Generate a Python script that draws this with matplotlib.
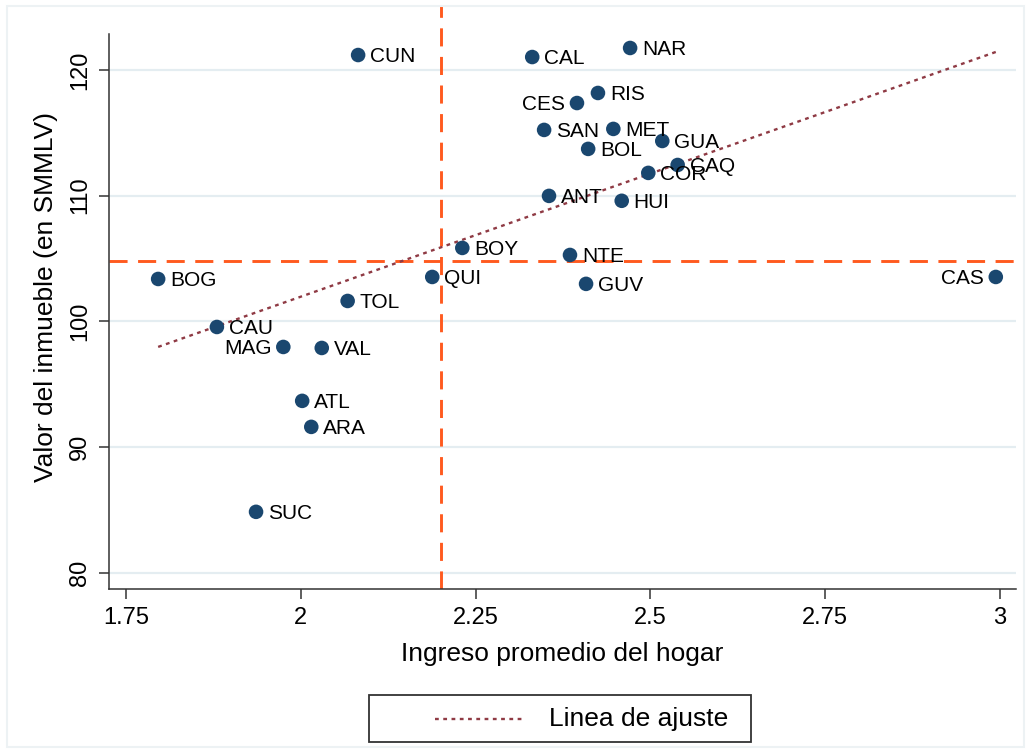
import numpy as np
import matplotlib
matplotlib.use("Agg")
import matplotlib.pyplot as plt
from matplotlib.patches import Rectangle
from matplotlib.lines import Line2D

plt.rcParams['font.family'] = ['Liberation Sans', 'DejaVu Sans']

# Departamentos: ingreso promedio del hogar vs valor del inmueble
deptos = ['BOG', 'TOL', 'CAU', 'MAG', 'VAL', 'ATL', 'ARA', 'SUC', 'CAL', 'NAR',
          'RIS', 'CES', 'SAN', 'MET', 'GUA', 'BOL', 'CAQ', 'COR', 'ANT', 'HUI',
          'CUN', 'BOY', 'QUI', 'NTE', 'GUV', 'CAS']
ingreso = [1.796, 2.067, 1.880, 1.975, 2.030, 2.002, 2.015, 1.936, 2.331, 2.471,
           2.425, 2.395, 2.348, 2.447, 2.517, 2.411, 2.539, 2.497, 2.355, 2.459,
           2.082, 2.231, 2.188, 2.385, 2.408, 2.994]
valor = [103.37, 101.62, 99.55, 97.96, 97.88, 93.67, 91.60, 84.84, 121.03, 121.75,
         118.17, 117.37, 115.23, 115.31, 114.35, 113.72, 112.44, 111.81, 109.98, 109.59,
         121.19, 105.84, 103.53, 105.28, 102.98, 103.53]
# etiquetas a la izquierda del punto
izquierda = ['CES', 'MAG', 'CAS']

# lineas de referencia
ref_ingreso = 2.2
ref_valor = 104.76

# recta de ajuste
ajuste_intercepto = 62.78
ajuste_pendiente = 19.59

xticks = [1.75, 2, 2.25, 2.5, 2.75, 3]
xticklabels = ['1.75', '2', '2.25', '2.5', '2.75', '3']
yticks = [80, 90, 100, 110, 120]

navy = '#1a476f'
naranja = '#ff5a1f'
granate = '#8f3a44'
grid_col = '#e4edf1'

W, H = 1031, 753
fig = plt.figure(figsize=(W / 100, H / 100), dpi=100)
left, right, top, bottom = 109, 1016, 5, 589
ax = fig.add_axes([left / W, 1 - bottom / H, (right - left) / W, (bottom - top) / H])

ax.set_xlim(1.7257, 3.0229)
ax.set_ylim(78.70, 125.17)

ax.set_yticks(yticks)
for yv in yticks:
    ax.axhline(yv, color=grid_col, lw=1.6, zorder=0)

ax.axvline(ref_ingreso, color=naranja, lw=2.1, dashes=(6.2, 3.6), zorder=1)
ax.axhline(ref_valor, color=naranja, lw=2.1, dashes=(6.2, 3.6), zorder=1)

xs = np.array([min(ingreso), max(ingreso)])
ax.plot(xs, ajuste_intercepto + ajuste_pendiente * xs, color=granate, lw=1.7,
        dashes=(1.6, 1.9), zorder=2)

ax.scatter(ingreso, valor, s=110, color=navy, edgecolors='none', zorder=3)
for d, xv, yv in zip(deptos, ingreso, valor):
    if d in izquierda:
        ax.annotate(d, (xv, yv), xytext=(-8.6, -1), textcoords='offset points',
                    ha='right', va='center', fontsize=15, color='black', zorder=4)
    else:
        ax.annotate(d, (xv, yv), xytext=(8.6, -1), textcoords='offset points',
                    ha='left', va='center', fontsize=15, color='black', zorder=4)

ax.set_xticks(xticks)
ax.set_xticklabels(xticklabels)
ax.tick_params(axis='both', length=7, width=1.1, color='#333333', labelsize=17, pad=6)
ax.tick_params(axis='y', labelrotation=90)
for lab in ax.get_yticklabels():
    lab.set_va('center')

for s in ['top', 'right']:
    ax.spines[s].set_visible(False)
for s in ['left', 'bottom']:
    ax.spines[s].set_color('#333333')
    ax.spines[s].set_linewidth(1.1)
ax.spines['left'].set_bounds(78.70, 122.9)

ax.set_xlabel('Ingreso promedio del hogar', fontsize=19, labelpad=9)
ax.set_ylabel('Valor del inmueble (en SMMLV)', fontsize=19, labelpad=8)

# borde del grafico
fig.add_artist(Rectangle((7 / W, 1 - 747 / H), (W - 14) / W, (747 - 6) / H,
                         transform=fig.transFigure, fill=False,
                         edgecolor='#edf2f4', lw=1.5))

# leyenda
fig.add_artist(Rectangle((369 / W, 1 - 742 / H), (751 - 369) / W, (742 - 695) / H,
                         transform=fig.transFigure, fill=False,
                         edgecolor='#333333', lw=1.3))
fig.add_artist(Line2D([435 / W, 525 / W], [1 - 719 / H, 1 - 719 / H],
                      transform=fig.transFigure, color=granate, lw=1.7,
                      dashes=(1.6, 1.9)))
fig.text(549 / W, 1 - 719 / H, 'Linea de ajuste', fontsize=19, ha='left', va='center')

fig.savefig('out.png', dpi=100, facecolor='white')
